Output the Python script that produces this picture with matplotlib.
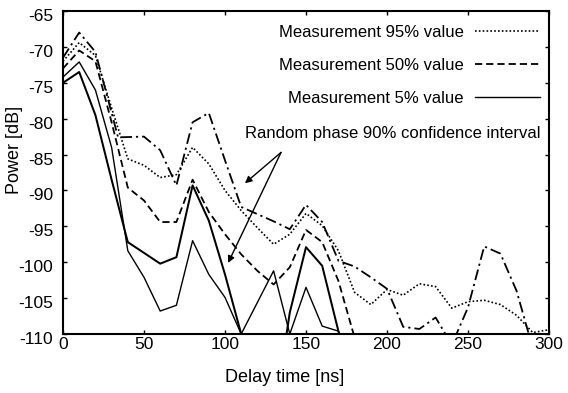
import matplotlib
matplotlib.use('Agg')
import matplotlib.pyplot as plt
from matplotlib.transforms import ScaledTranslation

plt.rcParams['font.family'] = ['Liberation Sans', 'DejaVu Sans']
plt.rcParams['axes.unicode_minus'] = False

# ---- data ----
delay_p95 = list(range(0, 301, 10))
p95 = [-72.0, -69.4, -71.2, -78.5, -85.6, -86.5, -88.2, -87.8, -84.0, -86.3,
       -90.0, -92.8, -95.2, -97.5, -96.1, -93.2, -94.9, -98.4, -104.2, -105.9,
       -103.8, -104.6, -103.0, -103.4, -106.4, -105.5, -105.3, -105.9, -107.4, -109.8,
       -109.4]

delay_p50 = list(range(0, 191, 10))
p50 = [-73.0, -70.5, -72.0, -80.5, -89.6, -91.4, -94.4, -94.4, -88.5, -93.0,
       -96.1, -98.9, -101.2, -103.1, -100.7, -95.5, -97.2, -102.6, -110.5, -118.0]

delay_p5 = list(range(0, 181, 10))
p5 = [-75.0, -73.5, -79.5, -88.5, -97.2, -98.7, -100.2, -99.3, -89.3, -94.2,
      -101.7, -110.0, -118.0, -122.0, -107.0, -97.9, -100.5, -109.6, -118.0]

delay_rp_lo = list(range(0, 181, 10))
rp_lo = [-74.2, -72.1, -76.0, -84.0, -98.4, -102.1, -106.8, -106.0, -97.0, -101.7,
         -104.9, -110.0, -105.6, -101.2, -110.0, -103.5, -108.9, -109.6, -116.0]

delay_rp_hi = [0, 10, 20, 34, 50, 60, 70, 80, 90, 100, 110, 120, 130, 140, 150,
               160, 170, 180, 190, 200, 210, 220, 230, 240, 250, 260, 270, 280, 290, 300]
rp_hi = [-71.5, -68.0, -70.7, -82.6, -82.5, -84.4, -89.3, -80.5, -79.2, -85.8,
         -92.3, -93.3, -94.3, -95.4, -92.0, -94.4, -99.8, -100.6, -102.1, -103.7,
         -109.0, -109.3, -107.7, -111.5, -106.3, -97.8, -98.8, -104.0, -112.0, -116.0]

legend_labels = ['Measurement 95% value', 'Measurement 50% value', 'Measurement 5% value']
rp_label = 'Random phase 90% confidence interval'
xticks = [0, 50, 100, 150, 200, 250, 300]
yticks = [-110, -105, -100, -95, -90, -85, -80, -75, -70, -65]

# ---- figure ----
fig = plt.figure(figsize=(5.68, 3.93), dpi=100)
ax = fig.add_axes([63 / 568, 1 - 334 / 393, (549 - 63) / 568, (334 - 11) / 393])

l95, = ax.plot(delay_p95, p95, color='k', lw=1.2, linestyle=(0, (1, 1.3)), label=legend_labels[0])
l50, = ax.plot(delay_p50, p50, color='k', lw=1.3, linestyle=(0, (4, 2.2)), label=legend_labels[1])
l5, = ax.plot(delay_p5, p5, color='k', lw=1.45, linestyle='-', label=legend_labels[2])
ax.plot(delay_rp_lo, rp_lo, color='k', lw=1.0, linestyle='-')
ax.plot(delay_rp_hi, rp_hi, color='k', lw=1.3, linestyle=(0, (6, 2.2, 1.2, 2.2)))

ax.set_xlim(0, 300)
ax.set_ylim(-110, -65)
ax.set_xticks(xticks)
ax.set_yticks(yticks)
ax.tick_params(direction='in', length=3, width=1, top=True, right=True, labelsize=12.5)
ax.tick_params(axis='x', pad=2)
ax.tick_params(axis='y', pad=7)
for sp in ax.spines.values():
    sp.set_linewidth(1.5)

off = ScaledTranslation(0, -0.04, fig.dpi_scale_trans)
for lab in ax.get_yticklabels():
    lab.set_transform(lab.get_transform() + off)

leg = ax.legend(handles=[l95, l50, l5], loc='upper right', bbox_to_anchor=(0.982, 0.956),
                frameon=False, markerfirst=False, fontsize=12, handlelength=3.9,
                handletextpad=0.7, labelspacing=1.06, borderpad=0, borderaxespad=0)
leg.get_lines()[2].set_linewidth(1.0)

ax.text(0.982, (334 - 133) / 323, rp_label, transform=ax.transAxes, ha='right', va='center', fontsize=12)

arrow_from = (134.6, -84.7)
ax.annotate('', xy=(112.3, -89.0), xytext=arrow_from,
            arrowprops=dict(arrowstyle='-|>', lw=1.0, color='k', shrinkA=0, shrinkB=0, mutation_scale=10))
ax.annotate('', xy=(101.9, -100.1), xytext=arrow_from,
            arrowprops=dict(arrowstyle='-|>', lw=1.0, color='k', shrinkA=0, shrinkB=0, mutation_scale=10))

fig.text(15 / 568, 1 - 150 / 393, 'Power [dB]', rotation=90, ha='center', va='center', fontsize=13)
fig.text(285 / 568, 1 - 377 / 393, 'Delay time [ns]', ha='center', va='center', fontsize=13)

fig.savefig('out.png', dpi=100)
